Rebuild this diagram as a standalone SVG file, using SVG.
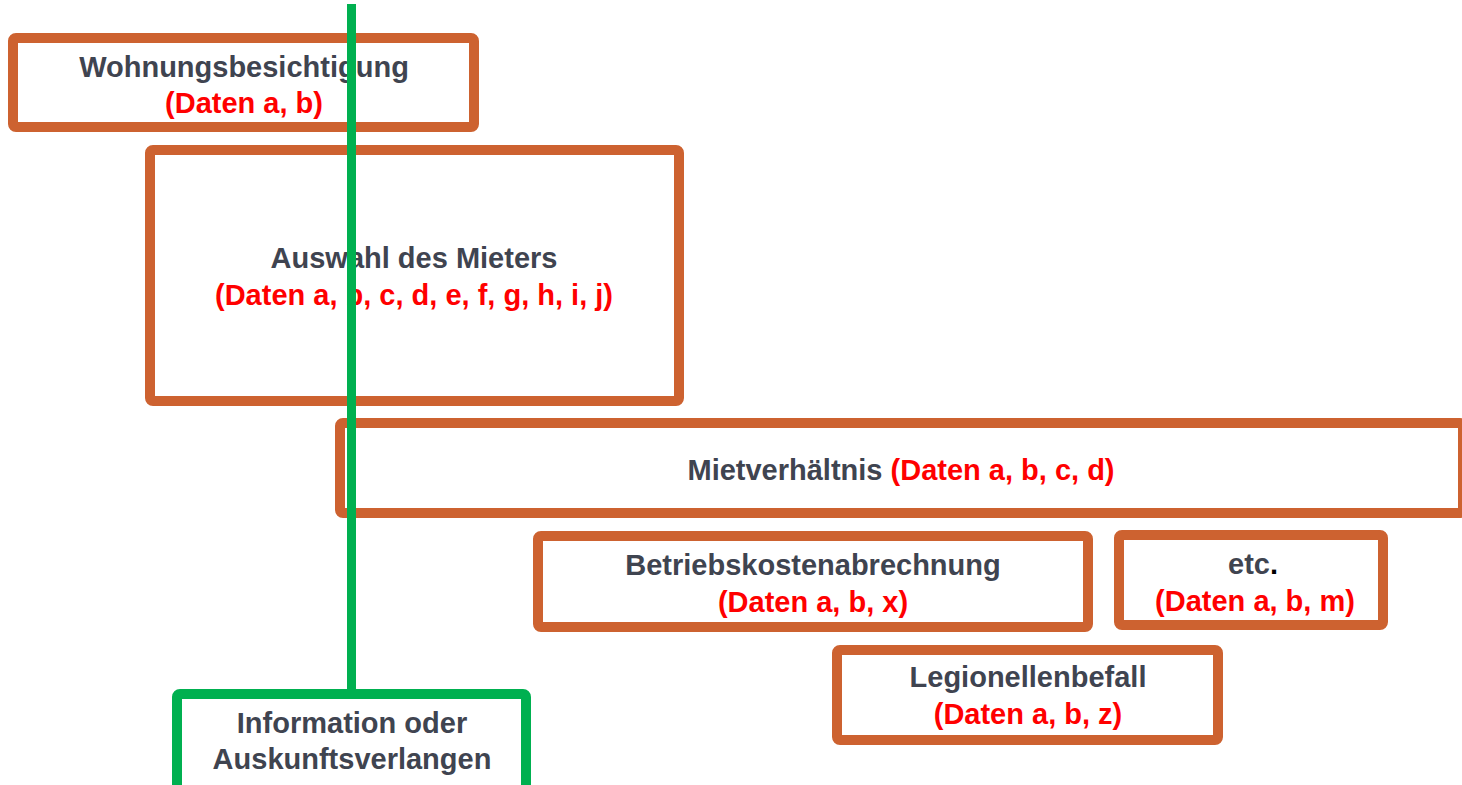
<svg xmlns="http://www.w3.org/2000/svg" width="1462" height="785" viewBox="0 0 1462 785">
<style>
.box{fill:#fff;stroke:#CD6230;stroke-width:10}
.gbox{fill:#fff;stroke:#00B050;stroke-width:10}
text{font-family:"Liberation Sans",Arial,sans-serif;font-weight:bold;font-size:29px;text-anchor:middle}
.t{fill:#3F4450}
.r{fill:#FF0000}
.k{fill:#000}
.conn{stroke:#00B050;stroke-width:9;fill:none}
</style>
<rect width="1462" height="785" fill="#fff"/>
<g id="n-wohnung">
<rect class="box" x="13" y="38" width="461" height="89" rx="3"/>
<text x="244" y="77" class="t">Wohnungsbesichtigung</text>
<text x="244" y="113" class="r">(Daten a, b)</text>
</g>
<g id="n-auswahl">
<rect class="box" x="150" y="150" width="529" height="251" rx="3"/>
<text x="414" y="268" class="t">Auswahl des Mieters</text>
<text x="414" y="305" class="r">(Daten a, b, c, d, e, f, g, h, i, j)</text>
</g>
<g id="n-miet">
<rect class="box" x="340" y="423" width="1123" height="90" rx="3"/>
<text x="901" y="480"><tspan class="t">Mietverhältnis </tspan><tspan class="r">(Daten a, b, c, d)</tspan></text>
</g>
<g id="n-betrieb">
<rect class="box" x="538" y="536" width="550" height="91" rx="3"/>
<text x="813" y="575" class="t">Betriebskostenabrechnung</text>
<text x="813" y="612" class="r">(Daten a, b, x)</text>
</g>
<g id="n-etc">
<rect class="box" x="1119" y="535" width="264" height="90" rx="3"/>
<text x="1253" y="574"><tspan class="t">etc</tspan><tspan class="k">.</tspan></text>
<text x="1255" y="611" class="r">(Daten a, b, m)</text>
</g>
<g id="n-legionellen">
<rect class="box" x="837" y="650" width="381" height="90" rx="3"/>
<text x="1028" y="687" class="t">Legionellenbefall</text>
<text x="1028" y="724" class="r">(Daten a, b, z)</text>
</g>
<g id="connectors">
<line class="conn" x1="351.5" y1="4" x2="351.5" y2="694"/>
</g>
<g id="n-info">
<rect class="gbox" x="177" y="694" width="349" height="100" rx="3"/>
<text x="352" y="733" class="t">Information oder</text>
<text x="352" y="769" class="t">Auskunftsverlangen</text>
</g>
</svg>
